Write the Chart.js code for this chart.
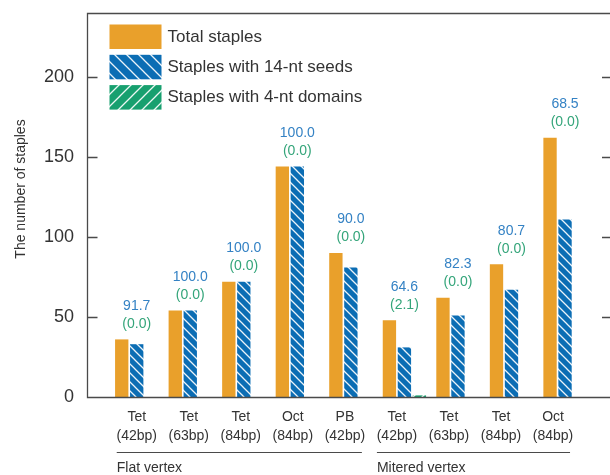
<!DOCTYPE html>
<html lang="en">
<head>
<meta charset="UTF-8">
<title>Staples per vertex design</title>
<script src="https://cdn.jsdelivr.net/npm/chart.js"></script>
<style>
  html, body { margin: 0; padding: 0; background: #fff; }
  #wrap { width: 610px; height: 475px; }
</style>
</head>
<body>
<div id="wrap"><canvas id="grafico"></canvas></div>
<script>
// vertex designs, one group of bars each
var designs = [
    ['Tet', '(42bp)'], ['Tet', '(63bp)'], ['Tet', '(84bp)'], ['Oct', '(84bp)'], ['PB', '(42bp)'],
    ['Tet', '(42bp)'], ['Tet', '(63bp)'], ['Tet', '(84bp)'], ['Oct', '(84bp)']
];
var totalStaples  = [36, 54, 72, 144, 90, 48, 62, 83, 162];
var seedStaples   = [33, 54, 72, 144, 81, 31, 51, 67, 111];
var domainStaples = [0, 0, 0, 0, 0, 1, 0, 0, 0];

// percentages written above each group
var seedPct   = ['91.7', '100.0', '100.0', '100.0', '90.0', '64.6', '82.3', '80.7', '68.5'];
var domainPct = ['0.0', '0.0', '0.0', '0.0', '0.0', '2.1', '0.0', '0.0', '0.0'];

var yTicks = [0, 50, 100, 150, 200];

var groups = [
    { name: 'Flat vertex', first: 0, last: 4 },
    { name: 'Mitered vertex', first: 5, last: 8 }
];

var orange = '#E9A02B';
var blue = '#0B6DB4';
var green = '#17A06F';
var ink = '#333333';

Chart.defaults.font.family = '"Liberation Sans", Arial, sans-serif';
Chart.defaults.color = ink;

// diagonal white hatching on a solid colour
function hatch(color, dir, step) {
    var c = document.createElement('canvas');
    c.width = step;
    c.height = step;
    var g = c.getContext('2d');
    g.fillStyle = color;
    g.fillRect(0, 0, step, step);
    g.strokeStyle = 'rgba(255,255,255,0.92)';
    g.lineWidth = 1.3;
    g.beginPath();
    if (dir === 'down') {
        g.moveTo(-1, -1); g.lineTo(step + 1, step + 1);
        g.moveTo(-1, step - 1); g.lineTo(1, step + 1);
        g.moveTo(step - 1, -1); g.lineTo(step + 1, 1);
    } else {
        g.moveTo(-1, step + 1); g.lineTo(step + 1, -1);
        g.moveTo(-1, 1); g.lineTo(1, -1);
        g.moveTo(step - 1, step + 1); g.lineTo(step + 1, step - 1);
    }
    g.stroke();
    return g.createPattern(c, 'repeat');
}

function points(values) {
    return values.map(function (v, i) { return { x: i, y: v }; });
}

// labels under the bars sit a little tighter than the bar groups
var labelStep = 0.972;

var decor = {
    id: 'decor',
    afterDatasetsDraw: function (chart) {
        var ctx = chart.ctx;
        var area = chart.chartArea;
        var x = chart.scales.x;
        var y = chart.scales.y;
        var left = Math.round(area.left) - 0.5;
        var top = Math.round(area.top) + 0.5;
        var bottom = Math.round(area.bottom) + 0.5;
        var right = area.right + 1;

        ctx.save();
        // frame
        ctx.strokeStyle = '#4a4a4a';
        ctx.lineWidth = 1.3;
        ctx.beginPath();
        ctx.moveTo(right, top); ctx.lineTo(left, top);
        ctx.lineTo(left, bottom); ctx.lineTo(right, bottom);
        y.ticks.forEach(function (t) {
            var py = Math.round(y.getPixelForValue(t.value)) + 0.5;
            ctx.moveTo(left, py); ctx.lineTo(left + 10, py);
            ctx.moveTo(right - 9, py); ctx.lineTo(right, py);
        });
        ctx.stroke();

        // value labels above each group
        var m0 = chart.getDatasetMeta(0).data;
        var m1 = chart.getDatasetMeta(1).data;
        var m2 = chart.getDatasetMeta(2).data;
        ctx.font = '14px "Liberation Sans", Arial, sans-serif';
        ctx.textAlign = 'center';
        ctx.textBaseline = 'middle';
        for (var i = 0; i < designs.length; i++) {
            var barTop = Math.min(m0[i].y, m1[i].y, m2[i].y);
            ctx.fillStyle = '#3482C4';
            ctx.fillText(seedPct[i], m1[i].x, barTop - 33.5);
            ctx.fillStyle = '#34A57A';
            ctx.fillText('(' + domainPct[i] + ')', m1[i].x, barTop - 15.5);
        }

        // group brackets under the tick labels
        ctx.strokeStyle = '#4a4a4a';
        ctx.lineWidth = 1;
        ctx.fillStyle = ink;
        ctx.textAlign = 'left';
        groups.forEach(function (grp) {
            var x0 = x.getPixelForValue(grp.first * labelStep) - 20;
            var x1 = x.getPixelForValue(grp.last * labelStep) + 17;
            ctx.beginPath();
            ctx.moveTo(x0, 452.5);
            ctx.lineTo(x1, 452.5);
            ctx.stroke();
            ctx.fillText(grp.name, x0, 468);
        });

        // y axis title
        ctx.save();
        ctx.translate(21, 189);
        ctx.rotate(-Math.PI / 2);
        ctx.textAlign = 'center';
        ctx.fillText('The number of staples', 0, 0);
        ctx.restore();

        // legend inside the plot
        ctx.font = '17px "Liberation Sans", Arial, sans-serif';
        chart.data.datasets.forEach(function (ds, k) {
            var bx = area.left + 21.5;
            var by = area.top + 11.5 + k * 30.3;
            ctx.fillStyle = ds.legendFill;
            ctx.fillRect(bx, by, 52, 24.5);
            ctx.fillStyle = ink;
            ctx.fillText(ds.label, bx + 58, by + 12.5);
        });
        ctx.restore();
    }
};

new Chart(document.getElementById('grafico'), {
    type: 'bar',
    data: {
        datasets: [
            {
                label: 'Total staples',
                data: points(totalStaples),
                backgroundColor: orange,
                legendFill: orange
            },
            {
                label: 'Staples with 14-nt seeds',
                data: points(seedStaples),
                backgroundColor: hatch(blue, 'down', 9),
                legendFill: hatch(blue, 'down', 12)
            },
            {
                label: 'Staples with 4-nt domains',
                data: points(domainStaples),
                backgroundColor: hatch(green, 'up', 9),
                legendFill: hatch(green, 'up', 12)
            }
        ]
    },
    options: {
        responsive: true,
        maintainAspectRatio: false,
        animation: false,
        layout: { padding: { top: 13, left: 0, right: 0, bottom: 0 } },
        datasets: {
            bar: { categoryPercentage: 0.864, barPercentage: 0.89 }
        },
        plugins: {
            legend: { display: false },
            tooltip: { enabled: false }
        },
        scales: {
            x: {
                type: 'linear',
                min: -0.91,
                max: 8.84,
                offset: false,
                grid: { display: false, drawTicks: false },
                border: { display: false },
                afterBuildTicks: function (scale) {
                    scale.ticks = designs.map(function (d, i) { return { value: i * labelStep }; });
                },
                afterFit: function (scale) {
                    scale.height = 78;
                    scale.paddingLeft = 0;
                    scale.paddingRight = 0;
                },
                ticks: {
                    autoSkip: false,
                    maxRotation: 0,
                    padding: 11,
                    color: ink,
                    font: { size: 14, lineHeight: '19px' },
                    callback: function (value, index) { return designs[index]; }
                }
            },
            y: {
                min: 0,
                max: 240,
                grid: { display: false, drawTicks: false },
                border: { display: false },
                afterBuildTicks: function (scale) {
                    scale.ticks = yTicks.map(function (v) { return { value: v }; });
                },
                afterFit: function (scale) {
                    scale.width = 88;
                    scale.paddingTop = 0;
                    scale.paddingBottom = 0;
                },
                ticks: {
                    padding: 14,
                    color: ink,
                    font: { size: 18 }
                }
            }
        }
    },
    plugins: [decor]
});
</script>
</body>
</html>
